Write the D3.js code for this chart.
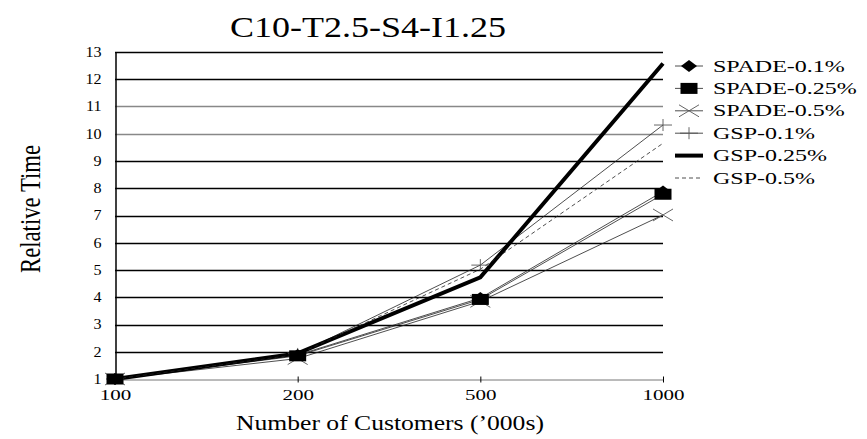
<!DOCTYPE html>
<html>
<head>
<meta charset="utf-8">
<script src="https://cdn.jsdelivr.net/npm/d3@7"></script>
<style>
  html, body { margin: 0; padding: 0; background: #fff; }
  svg { display: block; }
  text { font-family: "Liberation Serif", "DejaVu Serif", serif; fill: #000; }
</style>
</head>
<body>
<svg id="chart" width="867" height="439"></svg>
<script>
// Number of customers ('000s) on the x axis
const customers = ["100", "200", "500", "1000"];
const yTicks = [1, 2, 3, 4, 5, 6, 7, 8, 9, 10, 11, 12, 13];

// Relative execution time per algorithm / minimum support
const seriesNames = ["SPADE-0.1%", "SPADE-0.25%", "SPADE-0.5%", "GSP-0.1%", "GSP-0.25%", "GSP-0.5%"];
const spade01  = [1, 1.88, 3.97, 7.88];
const spade025 = [1, 1.85, 3.92, 7.78];
const spade05  = [1, 1.75, 3.85, 7.02];
const gsp01    = [1, 1.92, 5.18, 10.32];
const gsp025   = [1, 1.94, 4.73, 12.58];
const gsp05    = [1, 1.90, 5.03, 9.65];
const seriesValues = [spade01, spade025, spade05, gsp01, gsp025, gsp05];

// Visual style per series
const styles = [
  { marker: "diamond", width: 0.8, dash: null },
  { marker: "rect",    width: 0.8, dash: null },
  { marker: "cross",   width: 0.8, dash: null },
  { marker: "plus",    width: 0.8, dash: null },
  { marker: null,      width: 4,   dash: null },
  { marker: null,      width: 0.8, dash: "4,3" }
];

const svg = d3.select("#chart");
const x = d3.scalePoint().domain(customers).range([115, 663]);
const y = d3.scaleLinear().domain([1, 13]).range([379, 52]);

// Stretch a text element horizontally by a factor of its natural width
function stretch(sel, factor) {
  sel.each(function () {
    const w = this.getComputedTextLength();
    d3.select(this).attr("textLength", w * factor).attr("lengthAdjust", "spacingAndGlyphs");
  });
  return sel;
}

// Title
stretch(svg.append("text")
  .attr("x", 368).attr("y", 37)
  .attr("text-anchor", "middle")
  .attr("font-size", 30)
  .text("C10-T2.5-S4-I1.25"), 1.2);

// Horizontal grid lines
svg.append("g").selectAll("line")
  .data(yTicks.filter(d => d > 1))
  .join("line")
  .attr("x1", 115).attr("x2", 663)
  .attr("y1", d => Math.round(y(d)) + 0.5).attr("y2", d => Math.round(y(d)) + 0.5)
  .attr("stroke", d => (d === 10 || d === 11) ? "#888" : "#000")
  .attr("stroke-width", 1.3);

// Y axis
const yAxis = svg.append("g")
  .attr("transform", "translate(115.5,0)")
  .call(d3.axisLeft(y).tickValues(yTicks).tickSize(0).tickPadding(14));
yAxis.select(".domain").attr("stroke", "#000").attr("stroke-width", 1.5);
yAxis.selectAll("text").attr("font-size", 14).attr("font-family", "Liberation Serif").each(function () {
  stretch(d3.select(this), 1.15);
});

// X axis
const xAxis = svg.append("g")
  .attr("transform", `translate(0,${Math.round(y(1)) + 0.5})`)
  .call(d3.axisBottom(x).tickSizeOuter(0).tickSizeInner(3).tickPadding(8));
xAxis.select(".domain").attr("stroke", "#777").attr("stroke-width", 1);
xAxis.selectAll(".tick line").attr("y1", -3).attr("y2", 3).attr("stroke", "#000");
xAxis.selectAll("text").attr("font-size", 14).attr("font-family", "Liberation Serif").each(function () {
  stretch(d3.select(this), 1.5);
});

// Axis titles
stretch(svg.append("text")
  .attr("x", 390).attr("y", 430)
  .attr("text-anchor", "middle")
  .attr("font-size", 20)
  .text("Number of Customers (\u2019000s)"), 1.28);

svg.append("text")
  .attr("transform", "translate(40,209) rotate(-90)")
  .attr("text-anchor", "middle")
  .attr("font-size", 30)
  .attr("textLength", 128)
  .attr("lengthAdjust", "spacingAndGlyphs")
  .text("Relative Time");

// Marker drawing
function drawMarker(g, type, cx, cy) {
  if (type === "diamond") {
    g.append("path").attr("d", `M${cx - 8},${cy} L${cx},${cy - 6} L${cx + 8},${cy} L${cx},${cy + 6} Z`).attr("fill", "#000");
  } else if (type === "rect") {
    g.append("rect").attr("x", cx - 8.5).attr("y", cy - 5.5).attr("width", 17).attr("height", 11).attr("fill", "#000");
  } else if (type === "cross") {
    g.append("path").attr("d", `M${cx - 10},${cy - 6} L${cx + 10},${cy + 6} M${cx - 10},${cy + 6} L${cx + 10},${cy - 6}`)
      .attr("stroke", "#555").attr("stroke-width", 0.9).attr("fill", "none");
  } else if (type === "plus") {
    g.append("path").attr("d", `M${cx - 9},${cy} L${cx + 9},${cy} M${cx},${cy - 6} L${cx},${cy + 6}`)
      .attr("stroke", "#555").attr("stroke-width", 0.9).attr("fill", "none");
  }
}

// Series lines
const line = d3.line().x((d, i) => x(customers[i])).y(d => y(d));
const linesG = svg.append("g");
seriesValues.forEach((vals, k) => {
  const s = styles[k];
  linesG.append("path")
    .datum(vals)
    .attr("d", line)
    .attr("fill", "none")
    .attr("stroke", s.width > 2 ? "#000" : "#222")
    .attr("stroke-width", s.width)
    .attr("stroke-linejoin", "miter")
    .attr("stroke-dasharray", s.dash);
});

// Series markers
const markG = svg.append("g");
[2, 3, 1, 0].forEach(k => {
  seriesValues[k].forEach((v, i) => drawMarker(markG, styles[k].marker, x(customers[i]), y(v)));
});

// Legend
const legY = d3.scalePoint().domain(seriesNames).range([66, 178]);
const leg = svg.append("g");
seriesNames.forEach((name, k) => {
  const s = styles[k];
  const ly = legY(name);
  leg.append("line")
    .attr("x1", 675).attr("x2", 703).attr("y1", ly).attr("y2", ly)
    .attr("stroke", s.width > 2 ? "#000" : "#222")
    .attr("stroke-width", s.width)
    .attr("stroke-dasharray", s.dash);
  drawMarker(leg, s.marker, 689, ly);
  stretch(leg.append("text")
    .attr("x", 713).attr("y", ly + 5.5)
    .attr("font-size", 16)
    .text(name), 1.5);
});
</script>
</body>
</html>
